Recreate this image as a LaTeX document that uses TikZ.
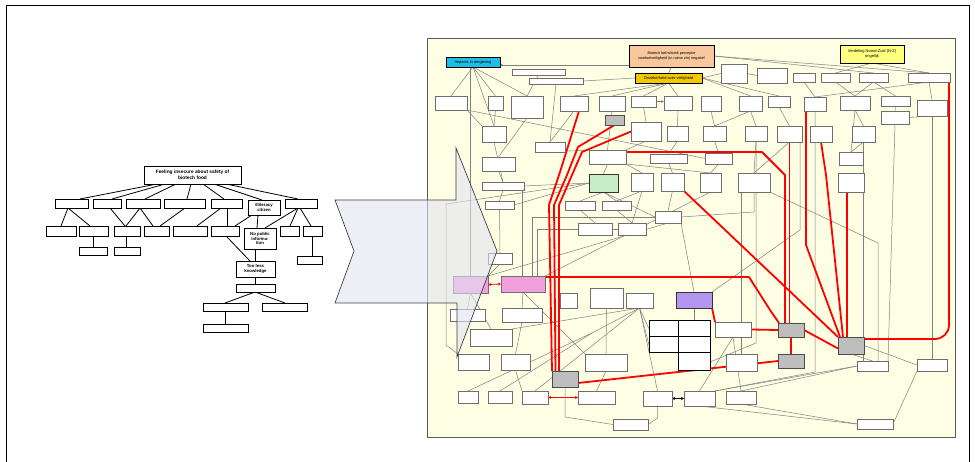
\documentclass[tikz,border=0pt]{standalone}
\usepackage{fontspec}
\setmainfont{Liberation Sans}
\usetikzlibrary{arrows.meta,calc}
\pgfdeclarelayer{panel}
\pgfdeclarelayer{lines}
\pgfdeclarelayer{front}
\pgfsetlayers{panel,lines,main,front}
\definecolor{panelfill}{RGB}{254,254,228}
\definecolor{panelline}{RGB}{90,90,90}
\definecolor{linegray}{RGB}{128,128,128}
\definecolor{boxline}{RGB}{110,110,110}
\definecolor{pinkbox}{RGB}{240,160,220}
\definecolor{purplebox}{RGB}{180,150,240}
\definecolor{greenbox}{RGB}{200,236,200}
\definecolor{graybox}{RGB}{190,190,190}
\definecolor{cyanbox}{RGB}{30,190,230}
\definecolor{orangebox}{RGB}{248,200,156}
\definecolor{goldbox}{RGB}{242,200,0}
\definecolor{nzbox}{RGB}{255,255,128}
\definecolor{arrowfill}{RGB}{226,226,242}
\definecolor{redline}{RGB}{255,0,0}
\tikzset{
 sbox/.style={draw=boxline,line width=0.6pt,fill=white,inner sep=0pt,outer sep=0pt},
 tbox/.style={draw=black,line width=0.8pt,fill=white,align=center,font=\fontsize{4.3}{4.8}\selectfont\bfseries},
 gbox/.style={fill=graybox,draw=black!70,line width=0.8pt},
 mbox/.style={draw=black,line width=1pt},
 lblbox/.style={draw=black,line width=0.8pt,align=center,font=\fontsize{4}{4.8}\selectfont},
 tline/.style={draw=black,line width=0.8pt},
 gl/.style={draw=linegray,line width=0.5pt},
 rl/.style={draw=redline,line width=1.8pt,line join=round},
 tip/.style={-{Stealth[length=3pt,width=2.6pt]}}
}
\newcommand\mybx[6][]{\pgfmathsetmacro\bxw{#5-#3}\pgfmathsetmacro\bxh{#6-#4}%
 \node[sbox,#1,minimum width=\bxw pt,minimum height=\bxh pt] (#2) at ({(#3+#5)/2},{(#4+#6)/2}) {};}
\newcommand\mybxt[7][]{\pgfmathsetmacro\bxw{#5-#3}\pgfmathsetmacro\bxh{#6-#4}%
 \node[sbox,#1,minimum width=\bxw pt,minimum height=\bxh pt] (#2) at ({(#3+#5)/2},{(#4+#6)/2}) {#7};}
\begin{document}
\begin{tikzpicture}[x=1pt,y=-1pt]
\useasboundingbox (0,0) rectangle (975,462);
\begin{pgfonlayer}{panel}
\draw[line width=0.8pt] (6,470) -- (6,5) -- (969,5) -- (969,470);
\draw[draw=panelline,line width=1pt,fill=panelfill] (427,39) rectangle (955,437);
\end{pgfonlayer}

% ---------------- left tree ----------------
\mybxt[tbox,font=\fontsize{4.8}{5.6}\selectfont\bfseries]{root}{144}{166}{241}{184}{Feeling insecure about safety of\\biotech food}
\mybx[tbox]{p1}{55}{199}{88}{208}
\mybx[tbox]{p2}{93}{199}{121}{208}
\mybx[tbox]{p3}{126}{199}{160}{208}
\mybx[tbox]{p4}{164}{199}{205}{208}
\mybx[tbox]{p5}{211}{199}{242}{208}
\mybxt[tbox]{ill}{248}{200}{280}{215}{Illiteracy\\citizen}
\mybx[tbox]{p7}{285}{199}{317}{208}
\mybx[tbox]{q1}{46}{226}{76}{236}
\mybx[tbox]{q2}{79}{226}{108}{236}
\mybx[tbox]{q3}{114}{226}{140}{236}
\mybx[tbox]{q4}{144}{226}{169}{236}
\mybx[tbox]{q5}{173}{226}{207}{236}
\mybx[tbox]{q6}{211}{226}{239}{236}
\mybxt[tbox]{np}{244}{228}{276}{249}{No public\\informa-\\tion}
\mybx[tbox]{q8}{280}{226}{299}{236}
\mybx[tbox]{q9}{303}{226}{322}{236}
\mybx[tbox]{r1}{79}{247}{107}{255}
\mybx[tbox]{r2}{114}{247}{140}{255}
\mybx[tbox]{r3}{297}{256}{322}{264}
\mybxt[tbox]{tl}{236}{261}{275}{277}{Too less\\knowledge}
\mybx[tbox]{s1}{236}{284}{275}{292}
\mybx[tbox]{s2}{203}{303}{248}{311}
\mybx[tbox]{s3}{262}{303}{307}{311}
\mybx[tbox]{s4}{203}{324}{248}{332}

\begin{pgfonlayer}{lines}
\draw[tline] ($(root.south west)+(13,0)$) -- ($(p1.north west)+(25,0)$);
\draw[tline] ($(root.south west)+(21,0)$) -- ($(p2.north west)+(19,0)$);
\draw[tline] ($(root.south west)+(32,0)$) -- ($(p3.north west)+(19,0)$);
\draw[tline] ($(root.south west)+(47,0)$) -- ($(p4.north west)+(23,0)$);
\draw[tline] ($(root.south west)+(59,0)$) -- ($(p5.north west)+(13,0)$);
\draw[tline] ($(root.south west)+(70,0)$) -- ($(ill.north west)+(14,0)$);
\draw[tline] ($(root.south west)+(82,0)$) -- ($(p7.north west)+(13,0)$);
\draw[tline] ($(p1.south west)+(13,0)$) -- ($(q1.north west)+(15,0)$);
\draw[tline] ($(p1.south west)+(13,0)$) -- ($(q2.north west)+(11,0)$);
\draw[tline] ($(q2.south west)+(14,0)$) -- ($(r1.north west)+(14,0)$);
\draw[tline] ($(p2.south west)+(17,0)$) -- ($(q3.north west)+(11,0)$);
\draw[tline] ($(p3.south west)+(14,0)$) -- ($(q3.north west)+(12,0)$);
\draw[tline] ($(p3.south west)+(14,0)$) -- ($(q4.north west)+(9,0)$);
\draw[tline] ($(q3.south west)+(12,0)$) -- ($(r2.north west)+(12,0)$);
\draw[tline] ($(p4.south west)+(21,0)$) -- ($(q4.north west)+(16,0)$);
\draw[tline] ($(p5.south west)+(10,0)$) -- ($(q5.north west)+(24,0)$);
\draw[tline] ($(p5.south west)+(16,0)$) -- ($(q6.north west)+(16,0)$);
\draw[tline] ($(ill.south west)+(4,0)$) -- ($(q6.north west)+(24,0)$);
\draw[tline] ($(ill.south west)+(10,0)$) -- ($(np.north west)+(13,0)$);
\draw[tline] ($(p7.south west)+(13,0)$) -- ($(np.north west)+(21,0)$);
\draw[tline] ($(p7.south west)+(13,0)$) -- ($(q8.north west)+(10,0)$);
\draw[tline] ($(p7.south west)+(15,0)$) -- ($(q9.north west)+(8,0)$);
\draw[tline] ($(q9.south west)+(9,0)$) -- ($(r3.north west)+(15,0)$);
\draw[tline] ($(q6.south west)+(15,0)$) -- ($(tl.north west)+(14,0)$);
\draw[tline] ($(np.south west)+(11,0)$) -- ($(tl.north west)+(19,0)$);
\draw[tline] ($(tl.south west)+(19,0)$) -- ($(s1.north west)+(19,0)$);
\draw[tline] ($(s1.south west)+(19,0)$) -- ($(s2.north west)+(22,0)$);
\draw[tline] ($(s1.south west)+(19,0)$) -- ($(s3.north west)+(23,0)$);
\draw[tline] ($(s2.south west)+(22,0)$) -- ($(s4.north west)+(22,0)$);
\end{pgfonlayer}

% ---------------- right panel boxes ----------------
\mybxt[lblbox,fill=cyanbox]{cyan}{446}{57}{500}{67}{Impacts in omgeving}
\mybxt[lblbox,fill=orangebox,font=\fontsize{3.8}{4.8}\selectfont]{orng}{629}{45}{714}{67}{Biotech beïnvloedt perceptie\\voedselveiligheid (in ruime zin) negatief}
\mybxt[lblbox,fill=goldbox]{gold}{635}{73}{702}{83}{Onzekerheid over veiligheid}
\mybxt[lblbox,fill=nzbox]{nz}{840}{45}{904}{63}{Verdeling Noord-Zuid (N-Z)\\ongelijk}
\mybx{t1}{512}{69}{565}{75}
\mybx{t2}{529}{78}{583}{84}
\mybx{a1}{435}{96}{467}{110}
\mybx{a2}{488}{96}{503}{110}
\mybx{a3}{511}{96}{543}{118}
\mybx{a4}{560}{96}{588}{111}
\mybx{a5}{599}{96}{625}{111}
\mybx{a6}{631}{96}{656}{107}
\mybx{a7}{664}{96}{692}{110}
\mybx{a8}{701}{96}{721}{111}
\mybx{a9}{739}{96}{762}{111}
\mybx{a10}{768}{96}{790}{107}
\mybx{a11}{804}{97}{826}{111}
\mybx{a12}{840}{96}{870}{110}
\mybx{a13}{881}{96}{910}{106}
\mybx{a14}{917}{100}{947}{116}
\mybx{a15}{881}{111}{909}{124}
\mybx{b1}{721}{64}{747}{83}
\mybx{b2}{757}{68}{787}{83}
\mybx{b3}{793}{73}{815}{82}
\mybx{b4}{821}{73}{850}{82}
\mybx{b5}{859}{73}{888}{82}
\mybx{b6}{908}{73}{950}{82}
\mybx{c1}{482}{126}{506}{142}
\mybx[gbox]{c2}{605}{115}{624}{125}
\mybx{c3}{631}{122}{661}{141}
\mybx{c4}{667}{126}{688}{141}
\mybx{c5}{703}{126}{726}{141}
\mybx{c6}{745}{126}{767}{141}
\mybx{c7}{777}{126}{802}{142}
\mybx{c8}{810}{126}{832}{142}
\mybx{c9}{852}{126}{875}{142}
\mybx{c10}{839}{152}{863}{165}
\mybx{c11}{535}{142}{565}{152}
\mybx{c12}{482}{157}{515}{171}
\mybx{c13}{589}{150}{626}{164}
\mybx{c14}{650}{154}{687}{163}
\mybx{c15}{705}{153}{732}{164}
\mybx{d1}{482}{182}{524}{190}
\mybx[fill=greenbox,draw=black!80,line width=0.9pt]{d2}{589}{174}{618}{192}
\mybx{d3}{631}{173}{653}{191}
\mybx{d4}{661}{173}{684}{191}
\mybx{d5}{700}{173}{721}{192}
\mybx{d6}{738}{173}{770}{192}
\mybx{d7}{838}{173}{864}{192}
\mybx{e1}{485}{201}{514}{209}
\mybx{e2}{565}{201}{595}{210}
\mybx{e3}{602}{201}{631}{210}
\mybx{e4}{655}{211}{681}{223}
\mybx{e5}{578}{223}{612}{235}
\mybx{e6}{618}{223}{646}{235}
\mybx{e7}{488}{253}{512}{264}
\mybx[fill=pinkbox]{pk1}{453}{276}{488}{293}
\mybx[fill=pinkbox]{pk2}{501}{276}{545}{292}
\mybx{f1}{560}{293}{577}{308}
\mybx{f2}{590}{288}{623}{308}
\mybx{f3}{626}{293}{653}{308}
\mybx[fill=purplebox,draw=black!80,line width=0.9pt]{pur}{676}{292}{712}{308}
\mybx{f4}{450}{309}{485}{321}
\mybx{f5}{502}{308}{542}{322}
\mybx{g1}{470}{329}{512}{346}
\mybx{g2}{458}{354}{489}{370}
\mybx{g3}{501}{354}{530}{370}
\mybx{g4}{585}{354}{627}{371}
\mybx[gbox]{oor}{552}{371}{578}{387}
\mybx[mbox]{m11}{649}{321}{678}{337}
\mybx[mbox]{m21}{649}{337}{678}{353}
\mybx[mbox]{m12}{678}{321}{710}{337}
\mybx[mbox]{m22}{678}{337}{710}{353}
\mybx[mbox]{m32}{678}{353}{710}{371}
\mybx{h1}{715}{322}{751}{337}
\mybx{h2}{726}{354}{757}{371}
\mybx[gbox]{gr1}{778}{323}{804}{337}
\mybx[gbox]{gr3}{778}{354}{804}{368}
\mybx[gbox]{gr2}{838}{337}{864}{354}
\mybx{h3}{857}{361}{888}{371}
\mybx{h4}{917}{359}{947}{371}
\mybx{k1}{458}{391}{478}{403}
\mybx{k2}{488}{391}{512}{403}
\mybx{k3}{522}{391}{548}{404}
\mybx{k4}{578}{391}{615}{404}
\mybx{k5}{643}{391}{672}{406}
\mybx{k6}{684}{391}{715}{406}
\mybx{k7}{726}{391}{756}{404}
\mybx{k8}{613}{419}{648}{430}
\mybx{k9}{857}{419}{893}{429}
\coordinate (jn) at (592,333);

\begin{pgfonlayer}{lines}
\foreach \a/\b in {cyan.south/a1.north, cyan.south/a2.north, cyan.south/a3.north, cyan.south/c1.north,
 orng.south/gold.north, orng.east/b5.north, orng.east/b6.north, nz.south/b4.north, nz.south/b6.north,
 gold.west/t2.east, t2.south/c11.north, t1.south/a3.north,
 gold.south/a4.north, gold.south/a5.north, gold.south/a6.north, gold.south/a7.north, gold.east/b1.west, gold.east/a9.north, gold.east/a10.north,
 b1.east/b2.west, b3.south/a11.north, b4.south/a12.north, b5.south/a12.north, b6.south/a14.north, b6.south/a11.north, b5.south/a13.north,
 a1.south east/c1.north west, a2.south/c1.north, a3.south/c12.north, a4.south/c11.north, a5.south/c13.north, a6.south/c3.north, a7.south/c4.north, a8.south/c5.north, a9.south/c6.north, a9.south/c5.north, a10.south/c7.north, a12.south/c9.north, a12.south/c10.north, a13.south/a15.north, a14.south/a15.east, a1.south east/c15.west,
 c1.south/d1.north, c12.south/d1.north, c3.south/c13.north east, c4.south/c14.north, c5.south/c15.north, c6.south/d6.north, c7.south/d6.north, c9.south/c10.north, c11.south/c13.north west,
 c13.south/d2.north, c13.south east/d3.north, c13.south east/d5.north, c14.south/d4.north, c15.south/d5.north,
 d1.south/e1.north, d2.west/d1.east, d2.west/e1.east, d2.south/e2.north, d2.south/e3.north, d2.south/e4.west, d3.south/e3.north, d3.south/e6.north, d4.south/e4.north,
 e1.south/e7.north, e2.south/e5.north, e3.south/e6.north, e7.south/pk1.north east,
 pk1.south/f4.north, pk1.south/g1.north, pk2.south/f5.north, pk2.south/g4.north west, pk1.north east/e4.south, pk2.north east/d5.south,
 f2.south/g4.north, f5.south/g3.north, f3.south/g1.north east, f3.south/k3.north, f3.south/m11.west, f3.south/m21.west, f3.south/k5.north,
 pur.south/m12.north, pur.north/e4.south east, g4.south/k4.north, g3.south/k3.north west,
 gr2.east/h4.west, gr2.south/h3.north, h4.south west/k9.east, k6.south/k9.west, k7.south/k9.west, h1.south/k6.north, h1.south/k7.north, k6.north east/h3.west, k7.north/h3.west,
 k1.north/jn, k2.north/jn, jn/f3.south, a15.south/h3.north east}
 \draw[gl] (\a) -- (\b);
\draw[gl,tip] ($(orng.south west)+(0,-2)$) -- ($(cyan.south east)+(0,-2)$);
\draw[gl,tip] (a6.east) -- (a6.east -| a7.west);
\draw[gl] (pk1.north |- cyan.south) -- (pk1.north);
\draw[gl] (d2.west) -- (446,204) -- (446,345) -- (g2.north west);
\draw[gl] (oor.south) -- ++(0,30) -- (k8.west);
\draw[gl] (k5.south) -- ++(0,12) -- (k8.east);
\draw[gl] (a11.south) -- (815,372) -- (k6.north east);
\draw[gl] (c9.south) -- (c9.south |- h3.north);
\draw[gl] (d6.south east) -- (878,243) -- ($(h3.north east)+(-10,0)$);
\draw[gl] (a14.south) -- (a14.south |- h4.north);
\draw[gl] ($(c7.south east)+(-2,0)$) -- (800,230) -- (pur.north east);
\draw[gl] (d6.south) -- ++(0,20) -- (e4.east);
\draw[gl] (e4.west) -- (532,217) -- ($(pk2.north west)+(31,0)$);
\draw[gl] (e6.west) -- (537,229) -- ($(pk2.north west)+(36,0)$);
\draw[gl] ($(d1.south east)+(-2,0)$) -- ($(pk2.north west)+(21,0)$);
\draw[gl] (h2.north) -- (h2.north |- d6.south);
\draw[gl] (c6.south) -- (756,343) -- (m32.east);
% red connectors
\draw[rl] ($(a4.south east)+(-9,0)$) -- (560,172) -- (549,205) -- (oor.north west);
\draw[rl] (c2.south) -- (578,147) -- (567,175) -- (554,205) -- ($(oor.north west)+(3.5,0)$);
\draw[rl] (c3.west) -- (582,152) -- (572,175) -- (559,205) -- ($(oor.north west)+(7,0)$);
\draw[rl] ($(c13.north east)+(0,2)$) -- (762,152) -- (785,175) -- ($(gr1.north west)+(7,0)$);
\draw[rl] (c7.south) -- (c7.south |- gr1.north);
\draw[rl] ($(pk2.north east)+(0,1)$) -- (749,277) -- (770,310) -- ($(gr1.north west)+(1,0)$);
\draw[rl] (pur.south east) -- (h1.north west);
\draw[rl] (h1.east) -- (gr1.west);
\draw[rl] ($(a11.south west)+(2,0)$) -- (806,245) -- ($(gr2.north west)+(2,0)$);
\draw[rl] (c8.south) -- (826,175) -- ($(gr2.north west)+(5,0)$);
\draw[rl] ($(d7.south)+(-4,0)$) -- ($(gr2.north)+(-4,0)$);
\draw[rl] (d4.south east) -- (gr2.north west);
\draw[rl,rounded corners=14pt] ($(b6.south east)+(-1,0)$) -- (949,339) -- ($(gr2.north east)+(0,2)$);
\draw[rl] (gr1.south) -- (gr3.north);
\draw[rl] (gr1.east) -- ($(gr2.west)+(0,3)$);
\draw[rl] ($(oor.east)+(0,4)$) -- (gr3.west);
\draw[draw=redline,line width=0.8pt,{Stealth[length=3pt,width=3pt]}-{Stealth[length=3pt,width=3pt]}] (pk1.east) -- (pk2.west);
\draw[draw=redline,line width=0.8pt,{Stealth[length=3pt,width=3pt]}-{Stealth[length=3pt,width=3pt]}] (k3.east) -- (k4.west);
\draw[draw=black,line width=0.8pt,{Stealth[length=3pt,width=3pt]}-{Stealth[length=3pt,width=3pt]}] (k5.east) -- (k6.west);
\end{pgfonlayer}

% ---------------- big block arrow ----------------
\begin{pgfonlayer}{front}
\draw[draw=black!75,line width=0.7pt,fill=arrowfill,fill opacity=0.6,line join=miter]
 (335,200) -- (456,200) -- (456,148) -- (497,251) -- (457,357) -- (457,303) -- (335,303) -- (354,251) -- cycle;
\end{pgfonlayer}
\end{tikzpicture}
\end{document}
